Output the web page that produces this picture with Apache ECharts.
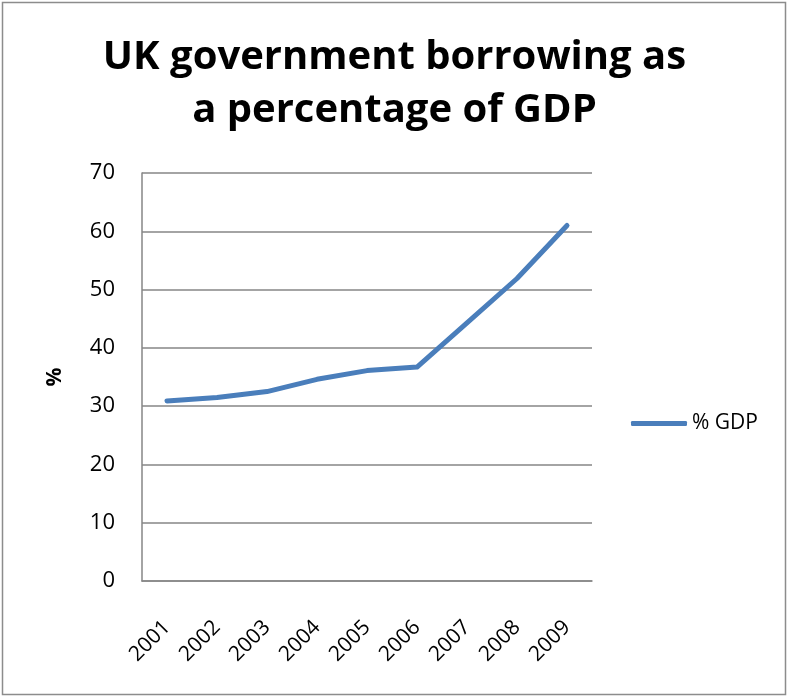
<!DOCTYPE html>
<html>
<head>
<meta charset="utf-8">
<script src="https://cdn.jsdelivr.net/npm/echarts@6/dist/echarts.min.js"></script>
<style>
  html, body { margin: 0; padding: 0; background: #fff; }
  #chart { width: 789px; height: 698px; }
</style>
</head>
<body>
<div id="chart"></div>
<script>
// UK government borrowing, % of GDP, 2001-2009
const years = ['2001', '2002', '2003', '2004', '2005', '2006', '2007', '2008', '2009'];
const gdpShare = [30.9, 31.5, 32.5, 34.6, 36.1, 36.7, 44.3, 51.9, 61.0];
const seriesName = '% GDP';
const yTicks = { min: 0, max: 70, interval: 10 };

const FONT = '"Open Sans", Lato, sans-serif';
const GRID_GRAY = '#868686';
const LINE_BLUE = '#4A7EBB';

const chart = echarts.init(document.getElementById('chart'), null, { renderer: 'canvas' });

chart.setOption({
  backgroundColor: '#fff',
  animation: false,
  title: {
    text: 'UK government borrowing as\na percentage of GDP',
    left: 'center',
    top: 26,
    textStyle: {
      fontFamily: FONT,
      fontWeight: 'bold',
      fontSize: 40,
      lineHeight: 53,
      color: '#000'
    }
  },
  legend: {
    data: [seriesName],
    left: 626,
    top: 408,
    itemWidth: 56,
    itemHeight: 5,
    itemGap: 4,
    icon: 'roundRect',
    textStyle: { fontFamily: FONT, fontSize: 21, color: '#000', padding: [0, 0, 0, 0] }
  },
  grid: { left: 142, top: 173, right: 197, bottom: 117, containLabel: false },
  xAxis: {
    type: 'category',
    data: years,
    boundaryGap: true,
    axisLine: { lineStyle: { color: GRID_GRAY, width: 1.5 } },
    axisTick: { show: false },
    axisLabel: {
      rotate: 45,
      margin: 43,
      fontFamily: FONT,
      fontSize: 21,
      color: '#000'
    }
  },
  yAxis: {
    type: 'value',
    min: yTicks.min,
    max: yTicks.max,
    interval: yTicks.interval,
    name: '%',
    nameLocation: 'middle',
    nameRotate: 90,
    nameGap: 76,
    nameTextStyle: { fontFamily: FONT, fontSize: 21, fontWeight: 'bold', color: '#000' },
    axisLine: { show: true, lineStyle: { color: GRID_GRAY, width: 1.5 } },
    axisTick: { show: false },
    splitLine: { lineStyle: { color: GRID_GRAY, width: 1.5 } },
    axisLabel: { margin: 27, fontFamily: FONT, fontSize: 22, color: '#000' }
  },
  series: [{
    name: seriesName,
    type: 'line',
    data: gdpShare,
    showSymbol: false,
    symbol: 'none',
    lineStyle: { color: LINE_BLUE, width: 5, cap: 'round', join: 'round' },
    itemStyle: { color: LINE_BLUE }
  }],
  graphic: [{
    type: 'rect',
    shape: { x: 2.5, y: 2.5, width: 783, height: 692 },
    style: { fill: null, stroke: '#8c8c8c', lineWidth: 1.5 },
    silent: true
  }]
});
</script>
</body>
</html>
